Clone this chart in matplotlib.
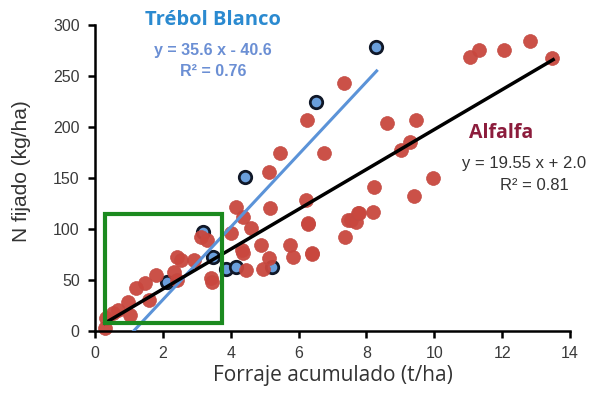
import numpy as np
import matplotlib.pyplot as plt
from matplotlib.patches import Rectangle

plt.rcParams['font.family'] = ['Liberation Sans', 'DejaVu Sans']

# Alfalfa points (t/ha, kg N/ha)
alf_x = [0.30, 0.33, 0.54, 0.68, 0.98, 1.04, 1.22, 1.49, 1.58, 1.79, 2.32, 2.41, 2.41,
         2.53, 2.92, 3.12, 3.30, 3.42, 3.45, 4.02, 4.17, 4.32, 4.35, 4.35, 4.46, 4.61,
         4.88, 4.94, 5.12, 5.12, 5.15, 5.45, 5.74, 5.83, 6.22, 6.25, 6.28, 6.28, 6.40,
         6.40, 6.76, 7.35, 7.38, 7.47, 7.53, 7.68, 7.74, 7.77, 8.18, 8.21, 8.60, 9.02,
         9.29, 9.40, 9.46, 9.97, 11.04, 11.31, 12.05, 12.83, 13.48]
alf_y = [3, 13, 18, 21, 28, 16, 42, 47, 30, 55, 58, 50, 73,
         70, 70, 92, 89, 52, 48, 96, 122, 79, 112, 76, 60, 101,
         84, 61, 72, 156, 121, 174, 84, 73, 128, 207, 105, 106, 76,
         75, 174, 243, 92, 109, 109, 107, 116, 116, 117, 141, 204, 177,
         185, 132, 207, 150, 269, 275, 275, 284, 268]

# Trebol blanco points
tre_x = [2.11, 3.18, 3.48, 3.87, 4.17, 4.42, 5.22, 6.52, 8.27]
tre_y = [48, 97, 73, 61, 63, 151, 63, 224, 278]

tre_fit = (35.6, -40.6)
alf_fit = (19.55, 2.0)

fig = plt.figure(figsize=(5.97, 3.95), dpi=100)
ax = fig.add_axes([0.159, 0.162, 0.796, 0.775])

ax.scatter(alf_x, alf_y, s=100, color='#c9473e', edgecolors='#c24a42', linewidths=0.5,
           zorder=2, clip_on=False, alpha=0.95)
ax.scatter(tre_x, tre_y, s=80, color='#6a9fdc', edgecolors='#101828', linewidths=2.0,
           zorder=1.5, clip_on=False)

# regression lines
xt = np.array([1.14, 8.3])
ax.plot(xt, tre_fit[0] * xt + tre_fit[1], color='#5b93d8', lw=2.2, zorder=3)
xa = np.array([0.3, 13.5])
ax.plot(xa, alf_fit[0] * xa + alf_fit[1], color='black', lw=2.5, zorder=3)

ax.add_patch(Rectangle((0.3, 8), 3.45, 107, fill=False, edgecolor='#1b8a1f', lw=3, zorder=4))

ax.set_xlim(0, 14)
ax.set_ylim(0, 300)
ax.set_xticks(range(0, 15, 2))
ax.set_yticks(range(0, 301, 50))
for s in ['top', 'right']:
    ax.spines[s].set_visible(False)
for s in ['left', 'bottom']:
    ax.spines[s].set_linewidth(1.8)
ax.tick_params(direction='out', length=5, width=1.8, labelsize=11.5, labelcolor='#3a3a3a', pad=6)
ax.set_ylabel('N fijado (kg/ha)', fontsize=15, color='#333333')
ax.yaxis.set_label_coords(-0.135, 0.523)
ax.set_xlabel('Forraje acumulado (t/ha)', fontsize=15, color='#333333', family='Open Sans', labelpad=3)

ax.text(3.48, 305, 'Trébol Blanco', fontsize=14.5, fontweight='bold', color='#2b8ad0',
        family='Open Sans', ha='center', va='center')
ax.text(3.48, 275, 'y = 35.6 x - 40.6', fontsize=11.5, fontweight='bold', color='#6b8fd4',
        ha='center', va='center')
ax.text(3.48, 254, 'R² = 0.76', fontsize=11.5, fontweight='bold', color='#6b8fd4',
        ha='center', va='center')

ax.text(11.96, 194, 'Alfalfa', fontsize=14, fontweight='bold', color='#8c1c3c',
        family='Open Sans', ha='center', va='center')
ax.text(12.65, 164, 'y = 19.55 x + 2.0', fontsize=12, color='#333333', ha='center', va='center')
ax.text(12.95, 143, 'R² = 0.81', fontsize=12, color='#333333', ha='center', va='center')

fig.savefig('out.png', dpi=100)
